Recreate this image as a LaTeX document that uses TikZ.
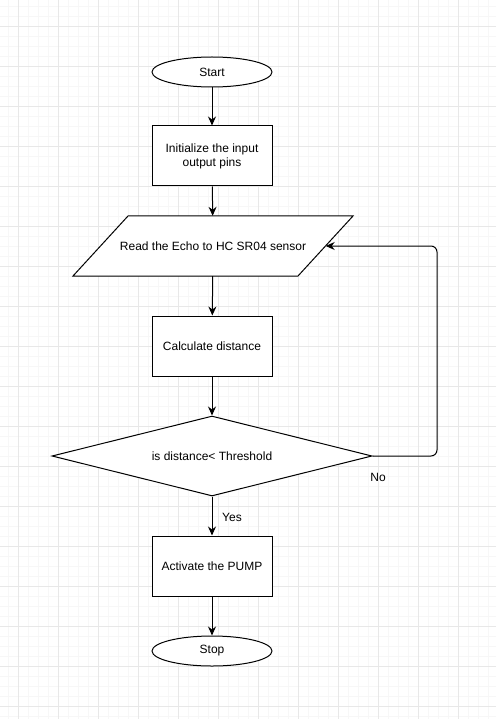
\documentclass[tikz,border=0pt]{standalone}
\usepackage{fontspec}
\setmainfont{Liberation Sans}
\usetikzlibrary{arrows.meta,shapes.geometric}
\definecolor{gridmaj}{HTML}{E8E8E8}
\definecolor{gridmin}{HTML}{F7F7F7}
\tikzset{
  base/.style={draw=black, line width=1pt, fill=white, align=center,
               inner sep=0pt, font=\fontsize{12}{14}\selectfont},
  term/.style={base, ellipse, minimum width=120pt, minimum height=30pt},
  proc/.style={base, rectangle, minimum width=120pt, minimum height=60pt},
  % the slanted outline is drawn by hand, the node only carries the text
  io/.style={align=center, inner sep=0pt, font=\fontsize{12}{14}\selectfont,
             minimum width=225pt, minimum height=60pt},
  dec/.style={base, diamond, aspect=4, minimum width=320pt, minimum height=80pt},
  ar/.style={-{Stealth[length=9pt,width=8pt,inset=3pt]}, line width=1pt},
  lbl/.style={font=\fontsize{12}{14}\selectfont, inner sep=0pt},
}

\begin{document}
\begin{tikzpicture}[x=1pt,y=-1pt]
  % page and grid
  \fill[white] (0,0) rectangle (496,719);
  \useasboundingbox (0,0) rectangle (496,719);
  \foreach \x in {8,18,...,488}
    \draw[gridmin, line width=0.6pt] (\x,0) -- (\x,719);
  \foreach \y in {6,16,...,716}
    \draw[gridmin, line width=0.6pt] (0,\y) -- (496,\y);
  \foreach \x in {18,58,...,458}
    \draw[gridmaj, line width=0.8pt] (\x,0) -- (\x,719);
  \foreach \y in {26,66,...,706}
    \draw[gridmaj, line width=0.8pt] (0,\y) -- (496,\y);

  % flowchart
  \node[term] (start) at (212,72)  {Start};
  \node[proc] (init)  at (212,156) {Initialize the input\\output pins};
  \filldraw[fill=white, line width=1pt]
    (73,276) -- (128,216) -- (353,216) -- (298,276) -- cycle;
  \node[io]   (read)  at (213,246) {Read the Echo to HC SR04 sensor};
  \node[proc] (calc)  at (212,346) {Calculate distance};
  \node[dec]  (cond)  at (212,456) {is distance< Threshold};
  \node[proc] (pump)  at (212,566) {Activate the PUMP};
  \node[term] (stop)  at (212,651) {Stop};

  \foreach \a/\b in {start/init, init/read, read/calc, calc/cond, cond/pump, pump/stop}
    \draw[ar] (\a) -- (\b);

  % back to the sensor when the level is not reached
  \draw[ar, rounded corners=6pt] (cond.east) -- (437,456) |- (read);

  \node[lbl, anchor=west] (yes) at (222,517) {Yes};
  \node[lbl] (no) at (378,477) {No};
\end{tikzpicture}
\end{document}
